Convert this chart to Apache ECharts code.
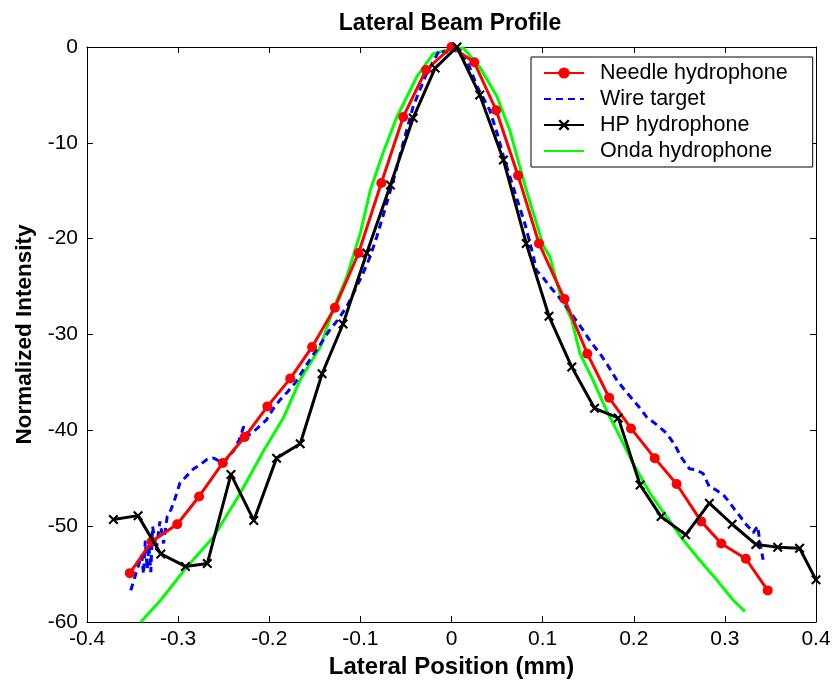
<!DOCTYPE html>
<html>
<head>
<meta charset="utf-8">
<script src="https://cdn.jsdelivr.net/npm/echarts@6/dist/echarts.min.js"></script>
<style>html,body{margin:0;padding:0;background:#fff}#c{width:834px;height:689px}</style>
</head>
<body>
<div id="c"></div>
<script>
// ---- data ----
const xTicks = [-0.4, -0.3, -0.2, -0.1, 0, 0.1, 0.2, 0.3, 0.4];
const yTicks = [0, -10, -20, -30, -40, -50, -60];
const seriesNames = ['Needle hydrophone', 'Wire target', 'HP hydrophone', 'Onda hydrophone'];

const needleX = [-0.353,-0.329,-0.301,-0.277,-0.251,-0.227,-0.202,-0.177,-0.153,-0.128,-0.102,-0.077,-0.053,-0.028,0.0,0.025,0.049,0.073,0.096,0.124,0.149,0.173,0.197,0.223,0.247,0.274,0.296,0.323,0.347];
const needleY = [-54.9,-51.6,-49.8,-46.9,-43.4,-40.7,-37.5,-34.6,-31.3,-27.2,-21.5,-14.2,-7.3,-2.4,0.0,-1.6,-6.6,-13.4,-20.5,-26.3,-32.0,-36.6,-39.8,-42.9,-45.6,-49.5,-51.8,-53.4,-56.7];

const wireX = [-0.352,-0.340,-0.338,-0.336,-0.334,-0.332,-0.330,-0.328,-0.324,-0.320,-0.316,-0.312,-0.308,-0.303,-0.298,-0.290,-0.283,-0.276,-0.268,-0.261,-0.255,-0.250,-0.245,-0.239,-0.233,-0.228,-0.223,-0.219,-0.211,-0.203,-0.196,-0.188,-0.180,-0.172,-0.162,-0.151,-0.143,-0.135,-0.125,-0.115,-0.106,-0.097,-0.089,-0.082,-0.072,-0.062,-0.053,-0.042,-0.034,-0.027,-0.020,-0.013,-0.006,0.000,0.008,0.017,0.028,0.042,0.050,0.057,0.064,0.071,0.081,0.090,0.093,0.100,0.108,0.117,0.126,0.135,0.144,0.153,0.163,0.172,0.181,0.190,0.199,0.207,0.214,0.225,0.236,0.245,0.252,0.261,0.268,0.276,0.283,0.290,0.298,0.305,0.311,0.317,0.322,0.327,0.331,0.336,0.338,0.340,0.342];
const wireY = [-56.7,-53.0,-55.0,-51.5,-54.5,-52.0,-54.8,-50.0,-52.5,-49.5,-51.8,-49.0,-48.3,-47.0,-45.5,-44.7,-44.0,-43.6,-43.0,-42.9,-43.2,-43.4,-42.8,-42.1,-41.0,-39.6,-40.5,-40.3,-39.6,-38.9,-37.8,-36.8,-36.0,-35.1,-33.6,-32.0,-30.9,-29.7,-28.5,-27.1,-25.4,-23.6,-21.8,-19.8,-16.6,-13.3,-10.0,-6.2,-4.3,-2.7,-1.5,-0.3,-0.6,0.0,-0.7,-1.4,-4.1,-6.6,-9.0,-11.4,-13.5,-15.6,-18.6,-21.9,-23.3,-24.0,-25.0,-26.0,-27.1,-28.3,-29.5,-30.8,-32.0,-33.3,-34.7,-35.8,-36.8,-37.7,-38.6,-39.4,-40.3,-41.5,-42.8,-44.0,-44.1,-44.5,-45.9,-46.2,-46.7,-47.5,-48.3,-49.0,-49.7,-50.2,-50.7,-50.0,-51.4,-52.5,-53.5];

const hpX = [-0.371,-0.344,-0.319,-0.292,-0.268,-0.242,-0.217,-0.192,-0.166,-0.142,-0.119,-0.093,-0.067,-0.042,-0.018,0.006,0.031,0.057,0.082,0.107,0.132,0.157,0.183,0.207,0.230,0.257,0.283,0.308,0.334,0.358,0.382,0.400];
const hpY = [-49.3,-48.9,-52.9,-54.2,-53.9,-44.6,-49.4,-42.9,-41.4,-34.1,-28.9,-21.5,-14.4,-7.4,-2.2,0.0,-5.0,-11.8,-20.5,-28.1,-33.4,-37.7,-38.7,-45.7,-49.0,-50.9,-47.6,-49.8,-51.9,-52.2,-52.3,-55.6];

const ondaX = [-0.341,-0.319,-0.290,-0.261,-0.232,-0.206,-0.184,-0.166,-0.144,-0.130,-0.115,-0.100,-0.089,-0.075,-0.060,-0.038,-0.020,0.000,0.013,0.031,0.050,0.064,0.082,0.101,0.108,0.119,0.132,0.141,0.155,0.170,0.185,0.199,0.218,0.236,0.254,0.272,0.291,0.309,0.322];
const ondaY = [-60.0,-57.7,-54.2,-51.1,-46.6,-42.1,-38.6,-34.7,-31.3,-27.4,-24.0,-19.4,-14.9,-11.0,-7.3,-3.1,-0.7,-0.2,-0.1,-2.1,-5.2,-8.7,-14.9,-20.8,-21.9,-25.7,-28.5,-32.0,-34.7,-37.9,-40.7,-43.4,-46.6,-49.0,-51.4,-53.5,-55.6,-57.7,-58.9];

function pairs(xs, ys) { return xs.map((x, i) => [x, ys[i]]); }

const crossPath = 'path://M0,1.5L1.5,0L5,3.5L8.5,0L10,1.5L6.5,5L10,8.5L8.5,10L5,6.5L1.5,10L0,8.5L3.5,5Z';
const font = 'Liberation Sans, Arial, sans-serif';

const chart = echarts.init(document.getElementById('c'), null, {renderer: 'canvas'});
const axisCommon = {
  type: 'value',
  axisLine: {show: true, onZero: false, lineStyle: {color: '#000', width: 1}},
  axisTick: {show: true, inside: true, length: 6, lineStyle: {color: '#000'}},
  splitLine: {show: false}
};
chart.setOption({
  animation: false,
  backgroundColor: '#fff',
  title: {
    text: 'Lateral Beam Profile', left: 445, top: 7, textAlign: 'center',
    textStyle: {fontFamily: font, fontSize: 23, fontWeight: 'bold', color: '#000'}
  },
  grid: {left: 87, right: 18, top: 47, bottom: 67, containLabel: false},
  legend: {
    orient: 'vertical', left: 531, top: 57,
    padding: [5, 25, 5, 12], itemGap: 4, itemWidth: 40, itemHeight: 14,
    borderColor: '#000', borderWidth: 1, backgroundColor: '#fff',
    textStyle: {fontFamily: font, fontSize: 21.5, lineHeight: 21.5, color: '#000', padding: [0, 0, 0, 11]},
    data: [
      {name: seriesNames[0]},
      {name: seriesNames[1], itemStyle: {opacity: 0}},
      {name: seriesNames[2]},
      {name: seriesNames[3], itemStyle: {opacity: 0}}
    ]
  },
  xAxis: [
    Object.assign({}, axisCommon, {
      min: -0.4, max: 0.4, interval: 0.1, position: 'bottom',
      name: 'Lateral Position (mm)', nameLocation: 'middle', nameGap: 31,
      nameTextStyle: {fontFamily: font, fontSize: 24, fontWeight: 'bold', color: '#000'},
      axisLabel: {fontFamily: font, fontSize: 21, color: '#000', margin: 7,
        formatter: v => { const t = xTicks.find(k => Math.abs(k - v) < 1e-9); return t === undefined ? '' : String(t); }}
    }),
    Object.assign({}, axisCommon, {min: -0.4, max: 0.4, interval: 0.1, position: 'top', axisLabel: {show: false}})
  ],
  yAxis: [
    Object.assign({}, axisCommon, {
      min: -60, max: 0, interval: 10, position: 'left',
      name: 'Normalized Intensity', nameLocation: 'middle', nameGap: 47,
      nameTextStyle: {fontFamily: font, fontSize: 22.5, fontWeight: 'bold', color: '#000'},
      axisLabel: {fontFamily: font, fontSize: 21, color: '#000', margin: 9,
        formatter: v => { const t = yTicks.find(k => Math.abs(k - v) < 1e-9); return t === undefined ? '' : String(t); }}
    }),
    Object.assign({}, axisCommon, {min: -60, max: 0, interval: 10, position: 'right', axisLabel: {show: false}})
  ],
  series: [
    {
      name: seriesNames[0], type: 'line', data: pairs(needleX, needleY),
      symbol: 'circle', symbolSize: 10, showAllSymbol: true, clip: true,
      lineStyle: {color: '#ff0000', width: 3}, itemStyle: {color: '#ff0000'}, z: 3
    },
    {
      name: seriesNames[1], type: 'line', data: pairs(wireX, wireY),
      symbol: 'none', clip: true,
      lineStyle: {color: '#0000ff', width: 3, type: [7, 5]}, itemStyle: {color: '#0000ff'}, z: 2
    },
    {
      name: seriesNames[2], type: 'line', data: pairs(hpX, hpY),
      symbol: crossPath, symbolSize: 10, showAllSymbol: true, clip: true,
      lineStyle: {color: '#000000', width: 3}, itemStyle: {color: '#000000'}, z: 4
    },
    {
      name: seriesNames[3], type: 'line', data: pairs(ondaX, ondaY),
      symbol: 'none', clip: true,
      lineStyle: {color: '#00ff00', width: 3}, itemStyle: {color: '#00ff00'}, z: 1
    }
  ]
});
</script>
</body>
</html>
